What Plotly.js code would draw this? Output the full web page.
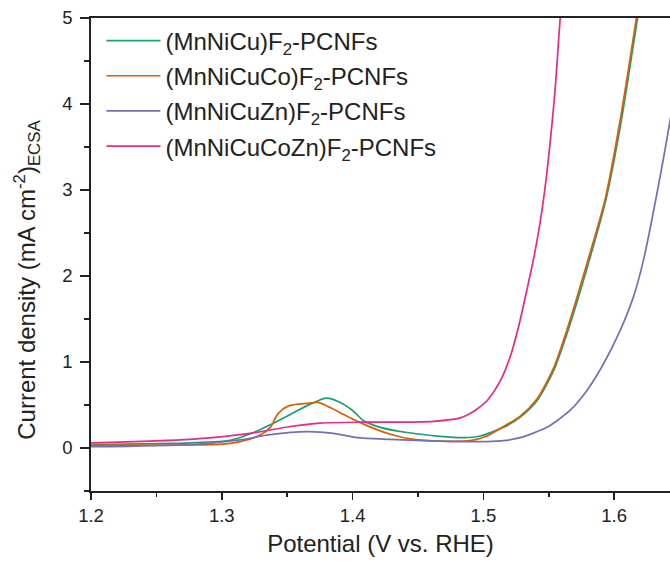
<!DOCTYPE html>
<html>
<head>
<meta charset="utf-8">
<script src="https://cdn.plot.ly/plotly-3.0.1.min.js"></script>
<style>html,body{margin:0;padding:0;background:#fff;}#chart{width:670px;height:565px;}</style>
</head>
<body>
<div id="chart"></div>
<script>
// Series names
const seriesNames = [
  "(MnNiCu)F<sub>2</sub>-PCNFs",
  "(MnNiCuCo)F<sub>2</sub>-PCNFs",
  "(MnNiCuZn)F<sub>2</sub>-PCNFs",
  "(MnNiCuCoZn)F<sub>2</sub>-PCNFs"
];
const seriesColors = ["#1b9e77", "#d95f02", "#7570b3", "#e7298a"];

// (MnNiCu)F2-PCNFs
const vMnNiCu = [1.200, 1.276, 1.3065, 1.3218, 1.3371, 1.3524, 1.3677, 1.3799, 1.3906, 1.4005, 1.4082, 1.4212, 1.4416, 1.4671, 1.4849, 1.4976, 1.5154, 1.5282, 1.541, 1.5537, 1.5639, 1.5794, 1.5939, 1.6054, 1.6179, 1.6205];
const jMnNiCu = [0.04, 0.06, 0.09, 0.165, 0.27, 0.39, 0.51, 0.58, 0.53, 0.43, 0.32, 0.24, 0.18, 0.135, 0.12, 0.14, 0.24, 0.36, 0.55, 0.90, 1.33, 2.10, 2.90, 3.80, 5.00, 5.25];

// (MnNiCuCo)F2-PCNFs
const vMnNiCuCo = [1.200, 1.276, 1.3011, 1.3141, 1.3294, 1.3371, 1.3430, 1.3510, 1.3651, 1.3738, 1.3829, 1.3957, 1.411, 1.4288, 1.4466, 1.4671, 1.490, 1.5028, 1.5154, 1.5282, 1.5405, 1.5534, 1.5634, 1.5787, 1.5932, 1.6047, 1.6170, 1.6195];
const jMnNiCuCo = [0.03, 0.035, 0.045, 0.075, 0.15, 0.24, 0.40, 0.49, 0.52, 0.53, 0.47, 0.37, 0.26, 0.16, 0.10, 0.08, 0.085, 0.14, 0.25, 0.37, 0.56, 0.92, 1.35, 2.12, 2.90, 3.82, 5.00, 5.25];

// (MnNiCuZn)F2-PCNFs
const vMnNiCuZn = [1.200, 1.276, 1.3141, 1.3371, 1.3651, 1.3852, 1.4034, 1.4288, 1.4671, 1.5028, 1.5154, 1.5282, 1.5486, 1.5664, 1.5792, 1.5919, 1.6047, 1.6148, 1.6225, 1.6352, 1.6450];
const jMnNiCuZn = [0.015, 0.04, 0.095, 0.155, 0.19, 0.17, 0.12, 0.10, 0.08, 0.075, 0.085, 0.12, 0.24, 0.44, 0.67, 0.98, 1.37, 1.76, 2.19, 3.16, 4.00];

// (MnNiCuCoZn)F2-PCNFs
const vMnNiCuCoZn = [1.200, 1.276, 1.3218, 1.3524, 1.3753, 1.4059, 1.4365, 1.462, 1.4824, 1.493, 1.5028, 1.5129, 1.5205, 1.5269, 1.5333, 1.5397, 1.546, 1.5542, 1.5588, 1.5605];
const jMnNiCuCoZn = [0.06, 0.10, 0.17, 0.25, 0.29, 0.30, 0.30, 0.31, 0.35, 0.43, 0.55, 0.78, 1.06, 1.41, 1.84, 2.30, 2.89, 4.05, 5.01, 5.30];

const xTickVals = [1.2, 1.3, 1.4, 1.5, 1.6];
const yTickVals = [0, 1, 2, 3, 4, 5];
const xTitle = 'Potential (V vs. RHE)';
const yTitle = 'Current density (mA cm<sup>-2</sup>)<sub>ECSA</sub>';

const xs = [vMnNiCu, vMnNiCuCo, vMnNiCuZn, vMnNiCuCoZn];
const ys = [jMnNiCu, jMnNiCuCo, jMnNiCuZn, jMnNiCuCoZn];

const traces = xs.map((x, i) => ({
  x: x, y: ys[i], type: 'scatter', mode: 'lines',
  name: seriesNames[i], legendgroup: 'g' + i,
  line: {color: seriesColors[i], width: 1.7, shape: 'spline', smoothing: 0.7}
}));

const FONT = 'Arial, "Liberation Sans", sans-serif';
const axisColor = '#222';

const layout = {
  width: 670, height: 565,
  margin: {l: 91, r: 0, t: 18, b: 74},
  paper_bgcolor: '#fff', plot_bgcolor: '#fff',
  font: {family: FONT, color: '#222'},
  showlegend: true,
  legend: {
    x: 0.018, y: 0.999, xanchor: 'left', yanchor: 'top',
    font: {family: FONT, size: 24, color: '#222'},
    bgcolor: 'rgba(0,0,0,0)', itemwidth: 54, tracegroupgap: 1
  },
  xaxis: {
    range: [1.2, 1.6427], tickvals: xTickVals, ticktext: xTickVals.map(v => v.toFixed(1)),
    ticks: 'outside', ticklen: 7, tickwidth: 1.5, tickcolor: axisColor,
    minor: {dtick: 0.05, tick0: 1.2, ticks: 'outside', ticklen: 4, tickwidth: 1.5, tickcolor: axisColor},
    showline: true, linewidth: 1.8, linecolor: axisColor, mirror: true,
    showgrid: false, zeroline: false,
    tickfont: {family: FONT, size: 18.5, color: '#222'},
    title: {text: xTitle, font: {family: FONT, size: 24, color: '#222'}, standoff: 10}
  },
  yaxis: {
    range: [-0.5, 5], tickvals: yTickVals, ticktext: yTickVals.map(String),
    ticks: 'outside', ticklen: 9, tickwidth: 1.5, tickcolor: axisColor,
    minor: {dtick: 0.5, tick0: 0, ticks: 'outside', ticklen: 5, tickwidth: 1.5, tickcolor: axisColor},
    showline: true, linewidth: 1.8, linecolor: axisColor, mirror: false,
    showgrid: false, zeroline: false, ticklabelstandoff: 4,
    tickfont: {family: FONT, size: 18.5, color: '#222'}
  },
  annotations: [{
    text: yTitle, textangle: -90, showarrow: false,
    xref: 'paper', yref: 'paper', x: -0.111, y: 0.446, xanchor: 'center', yanchor: 'middle',
    font: {family: FONT, size: 24, color: '#222'}
  }]
};

Plotly.newPlot('chart', traces, layout, {displayModeBar: false, staticPlot: true});
</script>
</body>
</html>
